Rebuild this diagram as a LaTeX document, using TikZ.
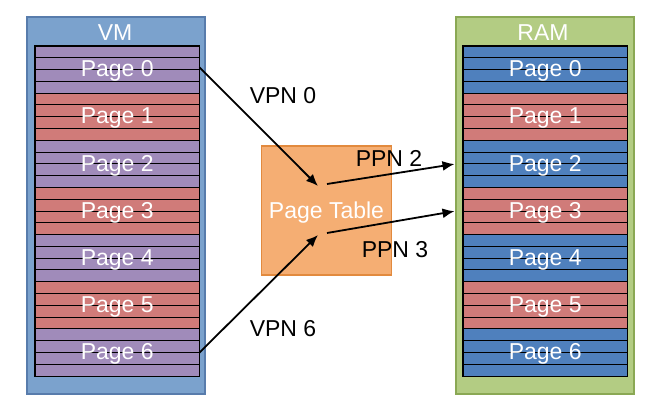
\documentclass[tikz,border=0pt]{standalone}
\usepackage{fontspec}
\setmainfont{Liberation Sans}
\usetikzlibrary{arrows.meta}
\definecolor{vmfill}{RGB}{123,162,205}
\definecolor{vmline}{RGB}{88,124,172}
\definecolor{ramfill}{RGB}{179,204,131}
\definecolor{ramline}{RGB}{138,168,84}
\definecolor{pgpurple}{RGB}{160,139,186}
\definecolor{pgred}{RGB}{208,123,121}
\definecolor{pgblue}{RGB}{79,128,189}
\definecolor{ptfill}{RGB}{245,174,115}
\definecolor{ptline}{RGB}{226,138,62}
\begin{document}
\begin{tikzpicture}[x=1pt,y=-1pt,font=\fontsize{23}{27}\selectfont,
  outerbox/.style={line width=2pt,minimum width=178pt,minimum height=377pt,anchor=north west,inner sep=0pt},
  pagebox/.style={draw=none,minimum width=164pt,minimum height=47.143pt,anchor=north west,inner sep=0pt},
  pagetext/.style={text=white,inner sep=0pt},
  stripe/.style={black,line width=0.9pt},
  arr/.style={line width=1.8pt,-{Latex[length=12pt,width=10pt]}},
  lbl/.style={black,inner sep=0pt}]
\useasboundingbox (0,0) rectangle (661,404);
% outer boxes
\node[outerbox,fill=vmfill,draw=vmline] (vm) at (26,16) {};
\node[outerbox,fill=ramfill,draw=ramline] (ram) at (454.5,16) {};
\node[pagetext] (vmtitle) at (115,33) {VM};
\node[pagetext] (ramtitle) at (543,33) {RAM};
% pages
\foreach \i/\c in {0/pgpurple,1/pgred,2/pgpurple,3/pgred,4/pgpurple,5/pgred,6/pgpurple}
  \node[pagebox,fill=\c] (vm\i) at (35,{46+\i*47.143}) {};
\foreach \i/\c in {0/pgblue,1/pgred,2/pgblue,3/pgred,4/pgblue,5/pgred,6/pgblue}
  \node[pagebox,fill=\c] (ram\i) at (463,{46+\i*47.143}) {};
\foreach \j in {1,...,27} {
  \draw[stripe] (35,{46+\j*11.786}) -- (199,{46+\j*11.786});
  \draw[stripe] (463,{46+\j*11.786}) -- (627,{46+\j*11.786});
}
\draw[black,line width=1.2pt] (vm0.north west) rectangle (vm6.south east);
\draw[black,line width=1.2pt] (ram0.north west) rectangle (ram6.south east);
\foreach \i in {0,...,6} {
  \node[pagetext] (vmt\i) at ([yshift=-1.5pt]vm\i.center) {Page \i};
  \node[pagetext] (ramt\i) at ([yshift=-1.5pt]ram\i.center) {Page \i};
}
% page table
\node[fill=ptfill,draw=ptline,line width=1.5pt,minimum width=130pt,minimum height=129pt,inner sep=0pt] (pt) at (326.5,210.5) {};
\node[pagetext] (pttext) at (326.5,213) {Page Table};
% connector ends
\coordinate (in0) at (318,186);
\coordinate (in6) at (318,235);
\coordinate (out2) at (327,184);
\coordinate (out3) at (327,233);
\draw[arr] ([yshift=2.5pt]vm0.east) -- (in0);
\draw[arr] (vm6.east) -- (in6);
\draw[arr] (out2) -- (ram2 -| ram.west);
\draw[arr] (out3) -- (ram3 -| ram.west);
% labels
\node[lbl] (vpn0) at (283,96) {VPN 0};
\node[lbl] (vpn6) at (283,329) {VPN 6};
\node[lbl] (ppn2) at (389,158) {PPN 2};
\node[lbl] (ppn3) at (395,250) {PPN 3};
\end{tikzpicture}
\end{document}
